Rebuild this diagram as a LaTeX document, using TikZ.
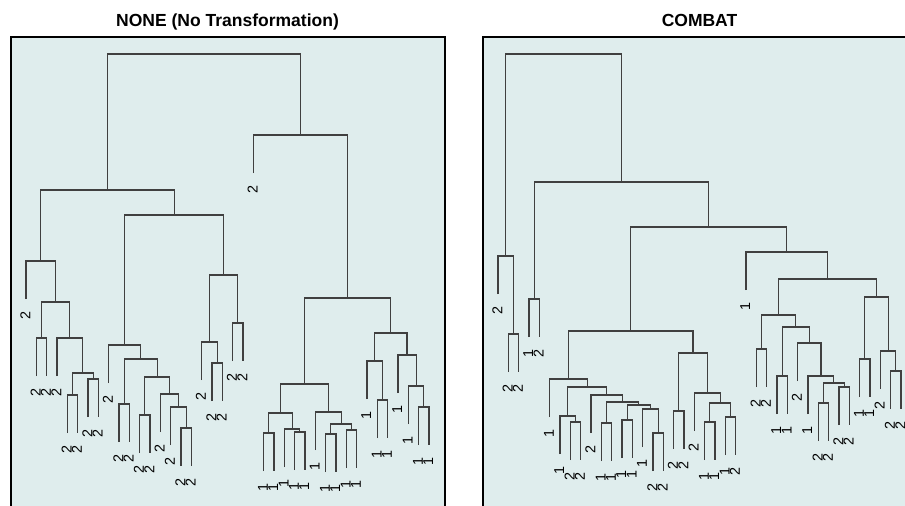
\documentclass[tikz,border=0pt]{standalone}
\usepackage{fontspec}
\setmainfont{Liberation Sans}
\usetikzlibrary{calc}
\definecolor{bgc}{RGB}{223,237,237}
\tikzset{
  tree/.style={draw=black!75, line width=1.15pt},
  frame/.style={draw=black, line width=2pt, fill=bgc},
  lab/.style={rotate=90, anchor=east, inner sep=0pt, font=\fontsize{14.3}{14.3}\selectfont},
  ttl/.style={anchor=base, inner sep=0pt, font=\fontsize{17.5}{18}\selectfont\bfseries}
}
\newcommand\lf[5]{%
  \coordinate (#1) at ({#2+10.3333*#3},{#4+38});
  \node[lab] (#1-l) at ({#2+10.3333*#3-0.7},{#4+50}) {#5};}
\newcommand\jn[4]{%
  \path let \p1=($(#2)!.5!(#3)$) in coordinate (#1) at (\x1,{-#4pt});
  \draw[tree] (#2) |- (#1) -| (#3);}
\begin{document}
\begin{tikzpicture}[x=1pt,y=-1pt]
\clip (0,0) rectangle (905,506);
\fill[white] (0,0) rectangle (905,506);
% titles
\node[ttl] (t1) at (227.5,27) {NONE (No Transformation)};
\node[ttl] (t2) at (699.5,27) {COMBAT};
% frames
\draw[frame] (10.5,37) rectangle (444.5,530);
\draw[frame] (483,37) rectangle (920,530);
% ---------- panel 1 leaves ----------
\lf{a0}{26}{0}{261}{2}
\lf{a1}{26}{1}{338}{2}
\lf{a2}{26}{2}{338}{2}
\lf{a3}{26}{3}{338}{2}
\lf{a4}{26}{4}{395}{2}
\lf{a5}{26}{5}{395}{2}
\lf{a6}{26}{6}{379}{2}
\lf{a7}{26}{7}{379}{2}
\lf{a8}{26}{8}{345}{2}
\lf{a9}{26}{9}{404}{2}
\lf{a10}{26}{10}{404}{2}
\lf{a11}{26}{11}{415}{2}
\lf{a12}{26}{12}{415}{2}
\lf{a13}{26}{13}{394}{2}
\lf{a14}{26}{14}{407}{2}
\lf{a15}{26}{15}{428}{2}
\lf{a16}{26}{16}{428}{2}
\lf{a17}{26}{17}{342}{2}
\lf{a18}{26}{18}{363}{2}
\lf{a19}{26}{19}{363}{2}
\lf{a20}{26}{20}{323}{2}
\lf{a21}{26}{21}{323}{2}
\lf{a22}{26}{22}{135}{2}
\lf{a23}{26}{23}{433}{1}
\lf{a24}{26}{24}{433}{1}
\lf{a25}{26}{25}{429}{1}
\lf{a26}{26}{26}{432}{1}
\lf{a27}{26}{27}{432}{1}
\lf{a28}{26}{28}{412}{1}
\lf{a29}{26}{29}{434}{1}
\lf{a30}{26}{30}{434}{1}
\lf{a31}{26}{31}{430}{1}
\lf{a32}{26}{32}{430}{1}
\lf{a33}{26}{33}{361}{1}
\lf{a34}{26}{34}{400}{1}
\lf{a35}{26}{35}{400}{1}
\lf{a36}{26}{36}{355}{1}
\lf{a37}{26}{37}{386}{1}
\lf{a38}{26}{38}{407}{1}
\lf{a39}{26}{39}{407}{1}
% ---------- panel 1 merges ----------
\jn{aD3}{a1}{a2}{338}
\jn{aD6}{a4}{a5}{395}
\jn{aD7}{a6}{a7}{379}
\jn{aD5}{aD6}{aD7}{373}
\jn{aD4}{a3}{aD5}{338}
\jn{aD2}{aD3}{aD4}{302}
\jn{aD}{a0}{aD2}{261}
\jn{aF3}{a9}{a10}{404}
\jn{aF5}{a11}{a12}{415}
\jn{aF8}{a15}{a16}{428}
\jn{aF7}{a14}{aF8}{407}
\jn{aF6}{a13}{aF7}{394}
\jn{aF4}{aF5}{aF6}{377}
\jn{aF2}{aF3}{aF4}{359}
\jn{aF}{a8}{aF2}{345}
\jn{aG3}{a18}{a19}{363}
\jn{aG1}{a17}{aG3}{342}
\jn{aG2}{a20}{a21}{323}
\jn{aG}{aG1}{aG2}{275}
\jn{aE}{aF}{aG}{215}
\jn{aA}{aD}{aE}{190}
\jn{aH3}{a23}{a24}{433}
\jn{aH5}{a26}{a27}{432}
\jn{aH4}{a25}{aH5}{429}
\jn{aH1}{aH3}{aH4}{413}
\jn{aH7}{a29}{a30}{434}
\jn{aH8}{a31}{a32}{430}
\jn{aH6}{aH7}{aH8}{424}
\jn{aH2}{a28}{aH6}{412}
\jn{aH}{aH1}{aH2}{384}
\jn{aI3}{a34}{a35}{400}
\jn{aI1}{a33}{aI3}{361}
\jn{aI5}{a38}{a39}{407}
\jn{aI4}{a37}{aI5}{386}
\jn{aI2}{a36}{aI4}{355}
\jn{aI}{aI1}{aI2}{333}
\jn{aC}{aH}{aI}{298}
\jn{aB}{a22}{aC}{135}
\jn{aR}{aA}{aB}{54}
% ---------- panel 2 leaves ----------
\lf{b0}{498}{0}{256}{2}
\lf{b1}{498}{1}{334}{2}
\lf{b2}{498}{2}{334}{2}
\lf{b3}{498}{3}{299}{1}
\lf{b4}{498}{4}{299}{2}
\lf{b5}{498}{5}{379}{1}
\lf{b6}{498}{6}{416}{1}
\lf{b7}{498}{7}{422}{2}
\lf{b8}{498}{8}{422}{2}
\lf{b9}{498}{9}{395}{2}
\lf{b10}{498}{10}{423}{1}
\lf{b11}{498}{11}{423}{1}
\lf{b12}{498}{12}{420}{1}
\lf{b13}{498}{13}{420}{1}
\lf{b14}{498}{14}{409}{1}
\lf{b15}{498}{15}{433}{2}
\lf{b16}{498}{16}{433}{2}
\lf{b17}{498}{17}{411}{2}
\lf{b18}{498}{18}{411}{2}
\lf{b19}{498}{19}{393}{2}
\lf{b20}{498}{20}{422}{1}
\lf{b21}{498}{21}{422}{1}
\lf{b22}{498}{22}{417}{1}
\lf{b23}{498}{23}{417}{2}
\lf{b24}{498}{24}{252}{1}
\lf{b25}{498}{25}{349}{2}
\lf{b26}{498}{26}{349}{2}
\lf{b27}{498}{27}{376}{1}
\lf{b28}{498}{28}{376}{1}
\lf{b29}{498}{29}{343}{2}
\lf{b30}{498}{30}{376}{1}
\lf{b31}{498}{31}{403}{2}
\lf{b32}{498}{32}{403}{2}
\lf{b33}{498}{33}{387}{2}
\lf{b34}{498}{34}{387}{2}
\lf{b35}{498}{35}{359}{1}
\lf{b36}{498}{36}{359}{1}
\lf{b37}{498}{37}{351}{2}
\lf{b38}{498}{38}{371}{2}
\lf{b39}{498}{39}{371}{2}
% ---------- panel 2 merges ----------
\jn{bP1}{b1}{b2}{334}
\jn{bP}{b0}{bP1}{256}
\jn{bQ1}{b3}{b4}{299}
\jn{bS6}{b7}{b8}{422}
\jn{bS4}{b6}{bS6}{416}
\jn{bS8}{b10}{b11}{423}
\jn{bS10}{b12}{b13}{420}
\jn{bS12}{b15}{b16}{433}
\jn{bS11}{b14}{bS12}{409}
\jn{bS9}{bS10}{bS11}{405}
\jn{bS7}{bS8}{bS9}{402}
\jn{bS5}{b9}{bS7}{395}
\jn{bS3}{bS4}{bS5}{387}
\jn{bS1}{b5}{bS3}{379}
\jn{bS13}{b17}{b18}{411}
\jn{bS16}{b20}{b21}{422}
\jn{bS17}{b22}{b23}{417}
\jn{bS15}{bS16}{bS17}{403}
\jn{bS14}{b19}{bS15}{393}
\jn{bS2}{bS13}{bS14}{353}
\jn{bS}{bS1}{bS2}{331}
\jn{bU3}{b25}{b26}{349}
\jn{bU5}{b27}{b28}{376}
\jn{bU9}{b31}{b32}{403}
\jn{bU10}{b33}{b34}{387}
\jn{bU8}{bU9}{bU10}{383}
\jn{bU7}{b30}{bU8}{376}
\jn{bU6}{b29}{bU7}{343}
\jn{bU4}{bU5}{bU6}{327}
\jn{bU1}{bU3}{bU4}{315}
\jn{bU11}{b35}{b36}{359}
\jn{bU13}{b38}{b39}{371}
\jn{bU12}{b37}{bU13}{351}
\jn{bU2}{bU11}{bU12}{297}
\jn{bU}{bU1}{bU2}{279}
\jn{bT}{b24}{bU}{252}
\jn{bQ2}{bS}{bT}{227}
\jn{bQ}{bQ1}{bQ2}{182}
\jn{bR}{bP}{bQ}{54}
\end{tikzpicture}
\end{document}
